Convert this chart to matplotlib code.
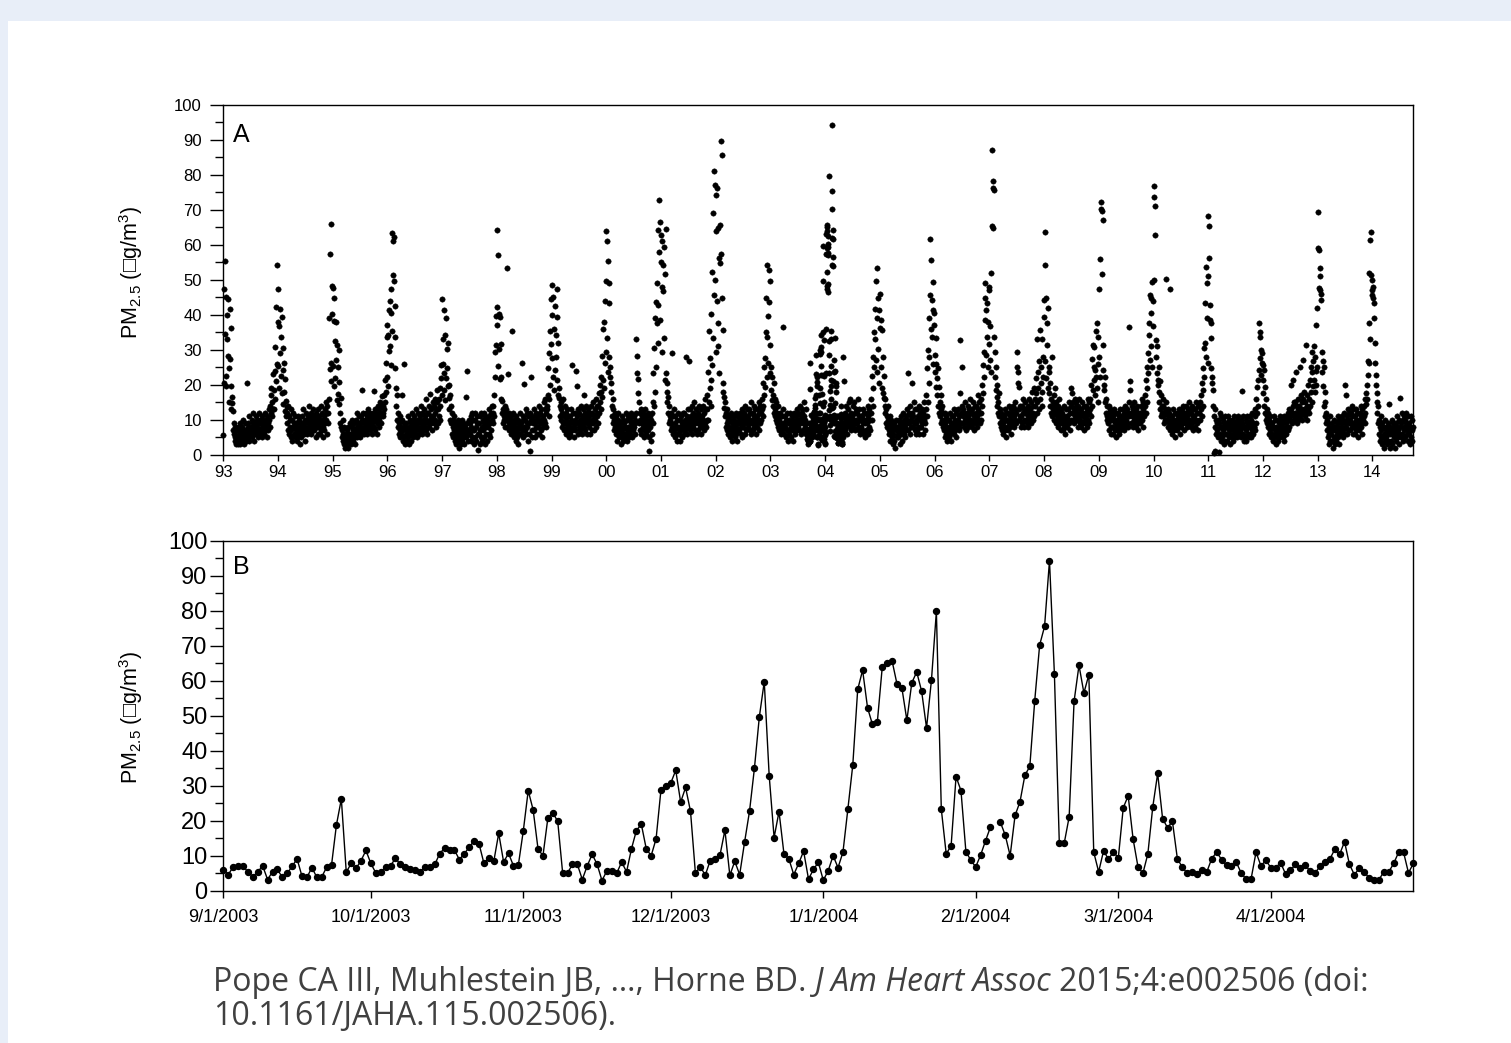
import numpy as np
import matplotlib
matplotlib.use('Agg')
import matplotlib.pyplot as plt
import matplotlib.dates as mdates
from matplotlib.patches import Rectangle
from matplotlib.ticker import MultipleLocator

plt.rcParams['font.family'] = ['Liberation Sans', 'DejaVu Sans']
plt.rcParams['mathtext.fontset'] = 'custom'
plt.rcParams['mathtext.rm'] = 'Liberation Sans'
plt.rcParams['mathtext.it'] = 'Liberation Sans:italic'

pm1993 = [5.7, 47.5, 20.5, 34.5, 55.3, 22.6, 45.0, 19.8, 33.2, 40.1, 28.3,
          44.6, 24.8, 15.2, 41.6, 27.3, 13.1, 36.4, 19.6, 16.5,
          14.8, 12.5, 7, 9, 6, 4, 8, 5, 3, 7, 5, 7, 3, 8, 4, 6, 9, 5, 3, 7,
          6, 4, 8, 5, 10, 7, 3, 6, 9, 5, 4, 7, 20.5, 6, 9, 5, 8, 11, 4, 7, 6,
          8, 6, 10, 5, 9, 7, 12, 6, 4, 8, 9, 7, 11, 6, 8, 10, 5, 7, 9, 12,
          7, 10, 6, 9, 8, 11, 5, 7, 10, 8, 6, 9, 12, 7, 10, 8, 5, 11, 9, 7, 13,
          10, 8, 14, 17, 12, 19, 11, 15, 23, 13,
          13, 18.5, 24, 30.8, 16, 42.3, 21, 54.3, 26, 38.1]
pm1994 = [47.3, 25.5, 36.9, 19.2, 41.6, 29.0, 22.5, 33.6, 17.8, 39.4, 24.4,
          30.5, 14.6, 26.2, 18, 12.5, 21.8, 15.3, 11, 13.7,
          12, 9, 14, 7, 11, 6, 10, 8, 13, 5, 7, 10, 4, 8, 12, 6, 9, 5, 11, 7,
          6, 9, 4, 8, 11, 5, 7, 10, 3, 6, 9, 8, 5, 11, 7, 9, 13, 6, 8, 10, 4,
          9, 12, 7, 10, 6, 11, 8, 14, 9, 7, 10, 8, 12, 6, 9, 11, 7, 13, 8, 10,
          7, 11, 9, 5, 12, 8, 10, 6, 9, 13, 8, 11, 6, 10, 14, 7, 9, 12, 5, 10, 8,
          11, 7, 13, 9, 15, 10, 6, 12, 14, 9,
          12, 16, 39.2, 24.5, 57.5, 21, 66.1, 26.3, 48.3, 40.3]
pm1995 = [47.6, 25.5, 44.8, 19.6, 38.2, 32.6, 22, 37.9, 27.1, 15.8, 31.3,
          25.2, 17.4, 30.1, 14.5, 20.8, 12, 9, 16.2, 8,
          7, 5, 10, 4, 6, 3, 8, 5, 2, 6, 4, 7, 3, 5, 8, 2, 6, 4, 9, 5,
          6, 3, 8, 5, 10, 4, 7, 6, 9, 3, 5, 7, 10, 5, 8, 12, 6, 9, 11, 7, 5,
          9, 6, 11, 8, 18.6, 10, 7, 12, 9, 6, 10, 8, 12, 7, 9, 11, 6, 10, 13, 8,
          9, 12, 7, 10, 8, 11, 6, 9, 12, 10, 8, 11, 18.2, 13, 7, 10, 12, 6, 9, 11, 14,
          10, 13, 8, 12, 15, 9, 11, 14, 16.8, 12,
          14, 11, 17, 13, 21.4, 15, 26.3, 18, 33.6, 22.2]
pm1996 = [37.1, 19.6, 34.2, 41.4, 29.6, 44.1, 31.1, 40.5, 25.7, 47.5, 35.3,
          63.3, 51.3, 61.2, 49.8, 62.4, 42.6, 33.7, 24.9, 19.2,
          14, 10, 17, 8, 12, 6, 9, 11, 7, 5, 8, 6, 10, 17, 4, 7, 26, 9, 5, 8,
          3, 6, 9, 4, 7, 11, 5, 8, 3, 6, 10, 7, 4, 9, 12, 6, 8, 5, 10, 7, 11,
          6, 9, 13, 7, 10, 5, 8, 12, 9, 6, 10, 7, 11, 8, 14, 9, 6, 12, 10, 7,
          9, 13, 8, 11, 16, 7, 10, 12, 6, 9, 12, 8, 14, 10, 17.5, 9, 11, 13, 7, 10, 15,
          11, 14, 9, 16, 12, 10, 13, 8, 15, 18.5,
          13, 9, 16, 11, 19, 14, 10, 22, 25.6, 17]
pm1997 = [44.5, 26, 33.1, 18.5, 41.5, 23.4, 34.2, 15.6, 39.0, 22, 30.2,
          24.7, 19.6, 32, 16.4, 20, 13, 17.2, 10, 14,
          9, 12, 6, 10, 8, 5, 11, 7, 4, 9, 6, 3, 8, 5, 10, 4, 7, 9, 2, 6,
          5, 8, 3, 7, 10, 4, 6, 9, 5, 3, 7, 8, 5, 16.5, 6, 9, 24, 7, 4, 10, 6,
          9, 6, 11, 4, 8, 12, 5, 10, 7, 3, 7, 10, 5, 12, 8, 4, 9, 11, 6, 1.5,
          6, 9, 3, 11, 7, 5, 12, 8, 4, 10, 7, 12, 5, 9, 3, 11, 8, 6, 10, 4, 9,
          8, 11, 6, 13, 9, 5, 12, 7, 10, 14,
          12, 9, 14, 17, 11, 22.2, 29.3, 39.8, 31.5, 42.4]
pm1998 = [64.2, 37.1, 57.1, 25.3, 40.2, 30.4, 21.7, 39.3, 16, 31.8, 22.4,
          15.5, 12, 9, 13, 11, 10, 14, 8, 12,
          10, 13, 8, 53.3, 11, 23.2, 9, 12, 7, 10, 8, 11, 6, 9, 35.4, 7, 12, 5, 10, 8,
          6, 9, 4, 11, 7, 5, 10, 8, 3, 9, 6, 8, 12, 6, 9, 26.2, 7, 11, 5, 10, 8,
          20.3, 7, 10, 13, 6, 9, 12, 8, 4, 11, 9, 6, 12, 1, 22.2, 10, 5, 11, 7, 9,
          10, 7, 13, 9, 5, 11, 8, 12, 6, 10, 8, 11, 6, 14, 9, 12, 7, 10, 13, 5, 9,
          11, 8, 15, 10, 13, 9, 16, 12, 8, 14,
          13, 17, 24.9, 11, 29.0, 16, 35.5, 20.0, 44.5, 31.7]
pm1999 = [48.6, 27.6, 39.9, 22.4, 45.2, 18.6, 36.1, 24.3, 42.6, 28.1, 34.3,
          47.3, 21.4, 39.5, 17.1, 31.9, 16.2, 19.2, 14, 11,
          15, 10, 13, 8, 12, 16, 9, 11, 7, 14, 9, 12, 6, 10, 8, 13, 7, 11, 5, 9,
          8, 11, 6, 10, 13, 25.7, 7, 9, 12, 5, 8, 10, 7, 12, 24, 9, 19.8, 11, 6, 13, 8,
          9, 12, 7, 10, 14, 8, 11, 6, 13, 9, 17, 10, 8, 12, 7, 11, 14, 9, 6, 12,
          10, 13, 8, 11, 6, 12, 9, 14, 7, 10, 12, 9, 15, 11, 7, 13, 10, 16, 8, 12, 14,
          11, 14, 9, 17.6, 12, 20, 15, 22.2, 13, 18.1,
          28.4, 16.5, 35.9, 21.4, 37.9, 19, 44.0, 26.2, 49.8, 29.5]
pm2000 = [64.0, 33.3, 61.1, 23.8, 55.5, 43.3, 28.1, 49.0, 25, 22.2, 20.7,
          18.1, 14, 11, 16, 9, 13, 7, 10, 12,
          8, 11, 6, 9, 4, 10, 7, 12, 5, 8, 6, 9, 3, 8, 11, 5, 7, 10, 4, 6,
          9, 5, 8, 12, 6, 10, 4, 7, 11, 8, 5, 7, 10, 6, 9, 12, 8, 5, 11, 7, 9,
          8, 11, 6, 10, 9, 12, 33.0, 23.5, 28.4, 17.8, 21.6, 15, 9, 12, 7, 10, 13, 6, 9, 11,
          8, 12, 5, 10, 7, 13, 9, 6, 11, 8, 10, 7, 12, 5, 9, 1.2, 11, 8, 4, 10, 6,
          12, 15, 9, 23.5, 14, 30.5, 18, 39.2, 25.2, 43.6,
          49.2, 37.6, 64.3, 31.9, 42.7, 57.9, 72.7, 38.6, 66.5, 55.0]
pm2001 = [62.7, 47.9, 61.0, 29.5, 54.3, 46.9, 33.3, 59.5, 51.6, 21.4, 64.5,
          23.5, 18.1, 20.5, 15.2, 16.7, 12, 9, 14, 11,
          10, 7, 12, 9, 29.2, 8, 11, 6, 13, 7, 9, 5, 11, 8, 6, 10, 4, 8, 12, 7,
          6, 10, 8, 4, 11, 7, 9, 5, 12, 8, 6, 9, 12, 7, 10, 8, 28.1, 11, 6, 13, 9,
          26.7, 10, 8, 13, 7, 11, 9, 14, 6, 10, 12, 8, 11, 15, 9, 7, 13, 10, 6, 11,
          9, 12, 7, 10, 14, 8, 11, 6, 13, 9, 11, 8, 14, 10, 7, 12, 16, 9, 13, 8, 10,
          13, 17, 10, 23.8, 15, 35.4, 19, 27.6, 14, 21.4,
          40.3, 25.7, 52.4, 33.3, 69.2, 45.7, 81.1, 50.0, 77.1, 29.5]
pm2002 = [74.3, 64.0, 44.1, 76.2, 31.0, 64.8, 37.6, 56.2, 23.5, 65.7, 54.8,
          89.8, 57.4, 85.7, 44.8, 35.7, 20.5, 18.1, 16.5, 13.3,
          11, 15, 8, 12, 9, 13, 7, 10, 6, 11, 8, 5, 10, 7, 12, 4, 9, 6, 11, 8,
          7, 10, 5, 9, 12, 6, 8, 11, 4, 9, 7, 10, 7, 12, 9, 6, 11, 8, 13, 5, 10,
          8, 12, 9, 6, 11, 14, 7, 10, 13, 9, 11, 8, 13, 10, 7, 12, 9, 15, 6, 10,
          9, 12, 7, 11, 14, 8, 10, 13, 6, 9, 11, 8, 13, 10, 15, 7, 12, 9, 14, 10, 12,
          13, 16, 11, 20.7, 14, 25.2, 17, 27.6, 19.5, 35.2,
          44.8, 22.2, 54.3, 33.8, 39.7, 26.2, 52.9, 43.8, 31.4, 49.7]
# Jan-Aug 2003 only; Sep 2003 - Apr 2004 is the daily series of panel B
pm2003 = [23.5, 18.6, 25.2, 15.7, 22.2, 17.1, 14, 20.7, 12, 16, 11,
          13, 10, 15, 9, 12, 8, 14, 11, 7,
          10, 8, 12, 6, 9, 11, 7, 13, 36.5, 8, 9, 6, 11, 8, 5, 10, 7, 12, 4, 9,
          7, 10, 6, 9, 12, 5, 8, 11, 7, 4, 9, 10, 7, 12, 8, 6, 11, 9, 13, 7, 10,
          8, 12, 10, 7, 14, 9, 11, 6, 13, 10, 12, 9, 7, 11, 15, 8, 10, 13, 6, 9]
# May-Dec 2004 (starts May 1)
pm2004 = [28.1, 21.0, 9, 12, 7, 10, 14, 8, 11, 6, 13, 9, 11, 15, 8, 10, 16, 7, 12, 9,
          11, 14, 8, 10, 15, 9, 12, 7, 13, 10, 9, 12, 16, 8, 11, 7, 13, 10, 6, 11,
          8, 11, 7, 13, 9, 6, 12, 10, 5, 9, 10, 7, 12, 9, 14, 6, 11, 8, 13, 10, 7,
          12, 16, 10, 22.6, 14, 28.1, 19, 35.0, 25.2, 33.0,
          41.6, 27.1, 49.7, 23.8, 53.5, 39.0, 44.8, 30.2, 41.4, 20.5]
pm2005 = [46.0, 36.2, 38.6, 25.2, 35.7, 19.0, 28.1, 17.6, 22.6, 16.2, 14,
          12, 16, 9, 13, 11, 8, 14, 10, 7,
          9, 6, 11, 4, 8, 10, 5, 7, 3, 9, 6, 9, 4, 8, 2, 7, 10, 5, 8, 6,
          8, 5, 10, 7, 3, 9, 6, 11, 8, 4, 7, 9, 12, 6, 10, 8, 5, 11, 7, 13, 9,
          10, 7, 23.5, 12, 9, 14, 6, 11, 8, 10, 12, 20.5, 8, 11, 15, 9, 7, 13, 10, 6,
          9, 13, 7, 11, 8, 14, 6, 10, 12, 8, 11, 8, 13, 9, 6, 12, 10, 15, 7, 11, 9,
          13, 17, 11, 24.8, 15, 30.0, 20.5, 39.0, 28.1, 45.7,
          61.6, 35.9, 55.7, 44.3, 33.8, 41.4, 26.0, 49.5, 37.1, 40.5]
pm2006 = [28.6, 23.8, 33.5, 19.5, 26.0, 21.9, 17.1, 24.8, 14, 19.5, 12,
          15, 11, 17.1, 9, 13, 10, 14, 8, 12,
          10, 7, 12, 5, 9, 11, 6, 8, 4, 10, 7, 10, 5, 8, 12, 6, 9, 4, 11, 7,
          8, 11, 6, 9, 13, 7, 10, 5, 12, 8, 9, 10, 13, 8, 11, 7, 32.9, 17.6, 12, 9, 14,
          25.2, 11, 9, 13, 8, 12, 15, 10, 7, 11, 12, 9, 14, 11, 8, 13, 10, 16, 9, 12,
          10, 13, 8, 12, 15, 9, 11, 7, 14, 10, 12, 9, 14, 11, 8, 13, 17, 10, 15, 9, 12,
          12, 16, 10, 20.0, 14, 25.7, 17.6, 29.5, 22.2, 44.8,
          38.6, 49.0, 28.6, 41.4, 33.8, 43.3, 25.2, 38.1, 31.7, 47.1]
pm2007 = [48.1, 27.1, 36.7, 52.1, 23.8, 65.4, 87.0, 78.4, 76.2, 64.8, 75.7,
          33.8, 29.5, 22.2, 18.6, 25.2, 16.7, 20, 14, 12,
          15, 11, 17.6, 9, 13, 8, 12, 10, 7, 11, 9, 6, 11, 8, 13, 7, 10, 5, 12, 8,
          10, 7, 12, 9, 14, 8, 11, 6, 13, 10, 9, 12, 9, 14, 11, 8, 13, 10, 15, 9, 12,
          29.5, 25.2, 23.8, 20.5, 19.5, 13, 10, 14, 11, 8, 11, 14, 9, 12, 16, 10, 13, 8, 12, 15,
          10, 13, 9, 12, 8, 14, 11, 16, 10, 12, 13, 9, 15, 11, 18, 10, 14, 12, 19, 11, 16,
          14, 17.6, 21.9, 12, 33.0, 15, 19.0, 23.8, 13, 26.7,
          16, 35.7, 20.5, 25.2, 14, 33.0, 18, 22.2, 28.1, 44.3]
pm2008 = [39.5, 54.3, 26.7, 63.8, 21.9, 44.8, 31.4, 37.6, 19.0, 41.9, 25.2,
          17.6, 23.8, 14, 20.5, 12, 16, 28.1, 11, 15,
          13, 17, 10, 14, 19, 12, 9, 15, 11, 13, 10, 14, 8, 12, 16, 9, 11, 7, 13, 10,
          9, 12, 7, 11, 14, 8, 10, 6, 13, 9, 11, 11, 8, 13, 10, 15, 9, 12, 7, 14, 10,
          19.0, 17.6, 12, 15, 10, 13, 9, 16, 11, 14, 12, 15, 10, 13, 8, 14, 11, 16, 9, 12,
          10, 13, 8, 12, 15, 9, 11, 14, 7, 10, 12, 9, 14, 11, 8, 13, 16, 10, 12, 9, 15,
          13, 16, 11, 20.0, 14, 27.3, 18.6, 31.4, 25.2, 21.4,
          30.8, 17, 24.3, 35.5, 22.4, 19, 37.8, 26.0, 15, 33.8]
pm2009 = [28.1, 47.4, 22.4, 55.9, 72.4, 70.2, 51.6, 69.8, 67.1, 31.4, 24.3,
          20.0, 18.6, 15, 22.4, 12, 16, 10, 14, 11,
          12, 9, 14, 7, 11, 13, 8, 10, 6, 12, 8, 11, 6, 10, 13, 7, 9, 5, 12, 8,
          10, 7, 12, 9, 6, 11, 8, 13, 7, 10, 9, 11, 8, 13, 10, 7, 12, 9, 14, 8, 11,
          10, 13, 9, 12, 8, 15, 11, 36.5, 21.0, 18.6, 12, 9, 14, 11, 8, 13, 10, 15, 9, 12,
          11, 8, 13, 10, 14, 9, 12, 7, 11, 10, 12, 9, 14, 11, 16, 10, 13, 8, 15, 11, 12,
          14, 17, 12, 21.4, 15, 25.2, 19, 29.0, 23.3, 34.3,
          37.6, 27.1, 45.7, 31.0, 40.5, 44.8, 25.2, 49.5, 36.7, 44.1]
pm2010 = [50.0, 76.9, 73.6, 62.9, 71.1, 32.9, 28.1, 23.3, 31.0, 21.4, 20.0,
          18.1, 25.2, 15, 21, 13, 17, 11, 14, 12,
          14, 11, 16, 12, 9, 13, 10, 15, 50.2, 12, 10, 13, 8, 11, 9, 12, 47.3, 7, 10, 9,
          8, 11, 6, 10, 13, 7, 9, 5, 12, 8, 10, 9, 12, 7, 11, 8, 13, 10, 6, 12, 9,
          11, 8, 13, 10, 14, 9, 12, 7, 11, 10, 12, 9, 14, 11, 8, 13, 10, 15, 9, 12,
          10, 13, 8, 12, 9, 14, 11, 7, 13, 10, 11, 8, 13, 10, 15, 9, 12, 7, 14, 10, 12,
          12, 15, 10, 13, 17, 11, 20.5, 14, 24.8, 18.6,
          30.5, 22.4, 43.3, 31.9, 53.6, 28.1, 49.2, 39.0, 26.2, 51.0]
pm2011 = [68.3, 65.4, 56.2, 42.7, 38.6, 37.6, 33.3, 24.8, 22.4, 20.5, 18.6,
          14, 0.5, 11, 8, 1, 13, 6, 10, 9,
          7, 10, 5, 0.8, 9, 12, 6, 8, 11, 4, 8, 5, 10, 7, 3, 9, 6, 11, 4, 8,
          6, 9, 4, 8, 11, 5, 7, 10, 3, 6, 9, 8, 5, 10, 7, 4, 9, 6, 11, 8, 5,
          9, 6, 10, 7, 5, 8, 11, 6, 9, 7, 7, 10, 5, 9, 18.3, 8, 6, 11, 4, 8,
          8, 5, 10, 7, 4, 9, 11, 6, 8, 5, 9, 6, 11, 8, 5, 10, 7, 12, 6, 9, 8,
          8, 11, 7, 13, 9, 16, 12, 19.5, 14, 21.4,
          24.3, 37.6, 27.6, 33.8, 35.2, 22.9, 30.0, 26.2, 29.0, 25.7]
pm2012 = [21.4, 17.6, 24.3, 14, 19.5, 12, 16, 10, 13, 9, 11,
          8, 12, 6, 10, 7, 11, 5, 9, 8,
          6, 9, 4, 8, 11, 5, 7, 10, 3, 6, 8, 5, 10, 7, 4, 9, 6, 11, 5, 8,
          7, 10, 6, 9, 5, 8, 11, 4, 7, 10, 6, 9, 6, 11, 8, 12, 7, 10, 13, 8, 11,
          10, 13, 20.0, 9, 12, 21.4, 14, 11, 15, 10, 12, 15, 23.8, 11, 14, 9, 13, 16, 10, 12,
          14, 11, 25.2, 13, 17, 10, 15, 12, 27.1, 16, 13, 18, 11, 15, 31.4, 12, 17, 10, 14, 20, 13,
          12, 16, 21.4, 14, 25.2, 18, 29.5, 15, 23.8, 19.7,
          26.7, 21.4, 31.0, 18.1, 28.1, 24, 37.1, 20, 41.9, 25.2]
pm2013 = [69.3, 59.0, 47.6, 58.6, 53.3, 51.0, 47.1, 46.0, 44.3, 29.5, 23.8,
          26.7, 19.7, 25.2, 14, 18.1, 11, 15, 9, 12,
          7, 10, 5, 9, 3, 8, 6, 11, 4, 7, 6, 9, 4, 8, 2, 7, 10, 5, 8, 3,
          7, 4, 9, 6, 11, 5, 8, 3, 10, 6, 7, 9, 6, 11, 8, 5, 10, 7, 12, 6, 9,
          20.0, 17.1, 8, 11, 6, 10, 13, 7, 9, 12, 10, 7, 12, 9, 14, 8, 11, 6, 13, 9,
          8, 11, 6, 10, 13, 7, 9, 12, 5, 8, 10, 7, 12, 9, 14, 8, 11, 6, 13, 9, 10,
          11, 14, 9, 16, 12, 17.6, 14.5, 20.0, 16, 22.9,
          26.7, 37.6, 26.2, 52.1, 61.4, 33.0, 63.8, 51.4, 47.1, 45.7]
pm2014 = [50.0, 48.1, 44.8, 43.3, 39.0, 31.9, 26.2, 22.9, 20.0, 17.6, 15,
          12, 9, 14, 6, 10, 4, 8, 11, 5,
          7, 3, 9, 5, 8, 2, 6, 10, 4, 7, 5, 8, 3, 6, 9, 4, 14.5, 7, 2, 6,
          8, 4, 7, 10, 3, 6, 9, 5, 8, 2, 7, 6, 9, 4, 8, 11, 5, 7, 10, 3, 6,
          16.2, 8, 5, 9, 12, 6, 10, 4, 8, 11, 7, 10, 5, 9, 12, 6, 8, 4, 11, 7,
          6, 9, 3, 8, 11, 5, 7, 10, 4, 8]

# Panel B: daily PM2.5, 9/1/2003 - 4/30/2004 (one day missing in Feb)
pm_daily = [5.9, 4.6, 6.8, 7.0, 7.0, 5.4, 4.0, 5.4, 7.1, 3.2,
            5.4, 6.1, 3.8, 5.0, 7.0, 9.1, 4.1, 3.8, 6.6, 3.9,
            3.9, 6.7, 7.3, 18.8, 26.2, 5.3, 7.8, 6.4, 8.6, 11.5,
            7.8, 5.1, 5.4, 6.7, 7.1, 9.3, 7.5, 6.7, 6.1, 5.9,
            5.4, 6.8, 6.9, 7.5, 10.6, 12.2, 11.6, 11.6, 8.9, 10.6,
            12.4, 14.3, 13.4, 7.8, 9.4, 8.4, 16.4, 8.2, 10.7, 7.1,
            7.4, 17.1, 28.6, 23.1, 11.9, 10.0, 20.8, 22.3, 19.8, 5.1,
            5.1, 7.5, 7.5, 3.2, 7.1, 10.4, 7.6, 2.9, 5.7, 5.7,
            5.0, 8.2, 5.4, 12.0, 17.2, 19.0, 12.0, 10.0, 14.8, 28.9,
            30.0, 30.8, 34.4, 25.3, 29.5, 22.7, 5.0, 6.9, 4.4, 8.6,
            9.0, 10.2, 17.3, 4.4, 8.4, 4.6, 13.9, 22.7, 35.0, 49.7,
            59.7, 32.9, 15.2, 22.6, 10.6, 9.1, 4.6, 7.8, 11.3, 3.3,
            6.1, 8.1, 3.0, 5.7, 10.0, 6.6, 11.0, 23.3, 35.9, 57.5,
            63.0, 52.3, 47.5, 48.3, 64.0, 65.2, 65.6, 59.0, 57.8, 48.7,
            59.4, 62.5, 57.0, 46.5, 60.2, 79.8, 23.3, 10.5, 12.9, 32.6,
            28.6, 11.2, 8.7, 6.8, 10.2, 14.3, 18.2, np.nan, 19.6, 15.9,
            10.0, 21.5, 25.4, 33.0, 35.5, 54.3, 70.2, 75.5, 94.3, 61.9,
            13.5, 13.6, 21.1, 54.1, 64.4, 56.5, 61.7, 11.0, 5.4, 11.4,
            9.0, 11.1, 9.4, 23.7, 27.1, 14.8, 6.8, 5.0, 10.5, 23.9,
            33.5, 20.6, 18.0, 19.8, 9.2, 6.7, 5.0, 5.3, 4.9, 5.9,
            5.4, 9.2, 11.0, 8.9, 7.3, 7.0, 8.1, 5.0, 3.3, 3.4,
            11.0, 7.1, 8.7, 6.6, 6.6, 8.0, 4.8, 5.8, 7.5, 6.4,
            7.3, 5.6, 5.0, 7.0, 8.1, 9.0, 11.8, 10.4, 14.0, 7.5,
            4.6, 6.4, 5.3, 3.7, 3.2, 3.2, 5.4, 5.4, 7.8, 11.0,
            11.0, 5.1, 7.8]

a_years = list(range(1993, 2015))
b_ticks = ['2003-09-01', '2003-10-01', '2003-11-01', '2003-12-01',
           '2004-01-01', '2004-02-01', '2004-03-01', '2004-04-01']
b_ticklabels = ['9/1/2003', '10/1/2003', '11/1/2003', '12/1/2003',
                '1/1/2004', '2/1/2004', '3/1/2004', '4/1/2004']

ylab = r'PM$_{2.5}$ (□g/m$^3$)'


def every_third_day(start, vals):
    return np.datetime64(start) + (3 * np.arange(len(vals))).astype('timedelta64[D]')


b_dates = np.arange('2003-09-01', '2004-05-01', dtype='datetime64[D]')

a_parts = [('1993-01-01', pm1993), ('1994-01-01', pm1994), ('1995-01-01', pm1995),
           ('1996-01-01', pm1996), ('1997-01-01', pm1997), ('1998-01-01', pm1998),
           ('1999-01-01', pm1999), ('2000-01-01', pm2000), ('2001-01-01', pm2001),
           ('2002-01-01', pm2002), ('2003-01-01', pm2003), ('2004-05-01', pm2004),
           ('2005-01-01', pm2005), ('2006-01-01', pm2006), ('2007-01-01', pm2007),
           ('2008-01-01', pm2008), ('2009-01-01', pm2009), ('2010-01-01', pm2010),
           ('2011-01-01', pm2011), ('2012-01-01', pm2012), ('2013-01-01', pm2013),
           ('2014-01-01', pm2014)]
a_dates = np.concatenate([every_third_day(s, v) for s, v in a_parts] + [b_dates])
a_vals = np.concatenate([np.array(v, dtype=float) for s, v in a_parts] + [np.array(pm_daily)])

fig = plt.figure(figsize=(15.11, 10.43), dpi=100)
fig.patch.set_facecolor('#e8eef8')
fig.patches.append(Rectangle((8 / 1511, 0), 1, 1 - 21 / 1043, transform=fig.transFigure,
                             facecolor='white', edgecolor='none', zorder=-5))

ax1 = fig.add_axes([0.1478, 0.5638, 0.7876, 0.3356])
ax2 = fig.add_axes([0.1478, 0.1460, 0.7876, 0.3356])

# panel A - scatter of all days
ax1.plot(a_dates, a_vals, ls='none', marker='o', ms=3.9, mew=0.3, color='black', clip_on=False)
ax1.set_xlim(np.datetime64('1993-01-01'), np.datetime64('2014-10-01'))
ax1.set_xticks(mdates.date2num([np.datetime64('%d-01-01' % y) for y in a_years]))
ax1.set_xticklabels(['%02d' % (y % 100) for y in a_years])
ax1.tick_params(axis='x', length=4.5, width=1, labelsize=12, pad=3)
ax1.tick_params(axis='y', which='major', length=9.5, width=1, labelsize=12, pad=6)
ax1.text(0.008, 0.947, 'A', transform=ax1.transAxes, fontsize=18, va='top', ha='left')

# panel B - one winter, daily
ax2.plot(b_dates, pm_daily, '-o', color='black', lw=1.0, ms=4.3, clip_on=False)
ax2.set_xlim(np.datetime64('2003-09-01'), np.datetime64('2004-04-30'))
ax2.set_xticks(mdates.date2num([np.datetime64(t) for t in b_ticks]))
ax2.set_xticklabels(b_ticklabels)
ax2.tick_params(axis='x', length=5, width=1, labelsize=13, pad=8)
ax2.tick_params(axis='y', which='major', length=9.5, width=1, labelsize=17, pad=2)
ax2.text(0.008, 0.96, 'B', transform=ax2.transAxes, fontsize=18, va='top', ha='left')

for ax in (ax1, ax2):
    ax.set_facecolor('white')
    ax.set_ylim(0, 100)
    ax.yaxis.set_major_locator(MultipleLocator(10))
    ax.yaxis.set_minor_locator(MultipleLocator(5))
    ax.tick_params(axis='y', which='minor', length=6, width=1)
    for sp in ax.spines.values():
        sp.set_linewidth(1.0)
    ax.set_ylabel(ylab, fontsize=15.5, family=['Liberation Sans', 'DejaVu Sans'])
ax1.yaxis.set_label_coords(-0.066, 0.52)
ax2.yaxis.set_label_coords(-0.066, 0.495)

# citation under the chart, italic journal name in the middle
cite_font = 'Open Sans'
cite_col = '#404040'
cite_size = 23
y_line1 = 0.0495
y_line2 = 0.0175
t1 = fig.text(213 / 1511, y_line1, 'Pope CA III, Muhlestein JB, \u2026, Horne BD.',
              fontsize=cite_size, family=cite_font, color=cite_col)
fig.canvas.draw()
rend = fig.canvas.get_renderer()
x_end = t1.get_window_extent(rend).x1
t2 = fig.text((x_end + 8) / 1511, y_line1, 'J Am Heart Assoc', fontsize=cite_size,
              family=cite_font, style='italic', color=cite_col)
x_end = t2.get_window_extent(rend).x1
fig.text((x_end + 8) / 1511, y_line1, '2015;4:e002506 (doi:', fontsize=cite_size,
         family=cite_font, color=cite_col)
fig.text(213 / 1511, y_line2, '10.1161/JAHA.115.002506).', fontsize=cite_size,
         family=cite_font, color=cite_col)

fig.savefig('out.png', dpi=100, facecolor=fig.get_facecolor())
